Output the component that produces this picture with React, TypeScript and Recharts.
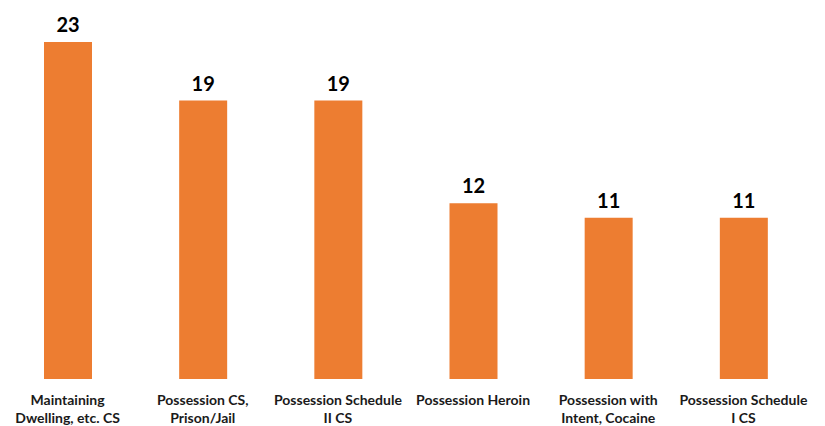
import React from "react";
import { BarChart, Bar, XAxis, YAxis, LabelList } from "recharts";

const categories = [
  "Maintaining\nDwelling, etc. CS",
  "Possession CS,\nPrison/Jail",
  "Possession Schedule\nII CS",
  "Possession Heroin",
  "Possession with\nIntent, Cocaine",
  "Possession Schedule\nI CS",
];
const counts = [23, 19, 19, 12, 11, 11];

const data = categories.map((name, i) => ({ name, value: counts[i] }));

const FONT = "Lato, 'Open Sans', sans-serif";

const CategoryTick = ({ x, y, payload }: any) => {
  const lines = String(payload.value).split("\n");
  return (
    <g transform={`translate(${x},${y})`}>
      {lines.map((line, i) => (
        <text
          key={i}
          x={0}
          y={18 + i * 18}
          textAnchor="middle"
          fontFamily={FONT}
          fontWeight="bold"
          fontSize={14}
          fill="#1a1a1a"
        >
          {line}
        </text>
      ))}
    </g>
  );
};

const App = () => {
  return (
    <div style={{ position: "absolute", left: 0, top: 0, background: "#fff" }}>
      <BarChart
        width={825}
        height={426}
        data={data}
        margin={{ top: 42, right: 14, left: 0, bottom: 0 }}
        barCategoryGap={0}
      >
        <XAxis
          dataKey="name"
          axisLine={false}
          tickLine={false}
          interval={0}
          height={47}
          tick={<CategoryTick />}
        />
        <YAxis hide domain={[0, 23]} />
        <Bar dataKey="value" fill="#ED7D31" barSize={48} isAnimationActive={false}>
          <LabelList
            dataKey="value"
            position="top"
            offset={10}
            style={{ fontFamily: FONT, fontWeight: "bold", fontSize: 20, fill: "#000" }}
          />
        </Bar>
      </BarChart>
    </div>
  );
};

export default App;
